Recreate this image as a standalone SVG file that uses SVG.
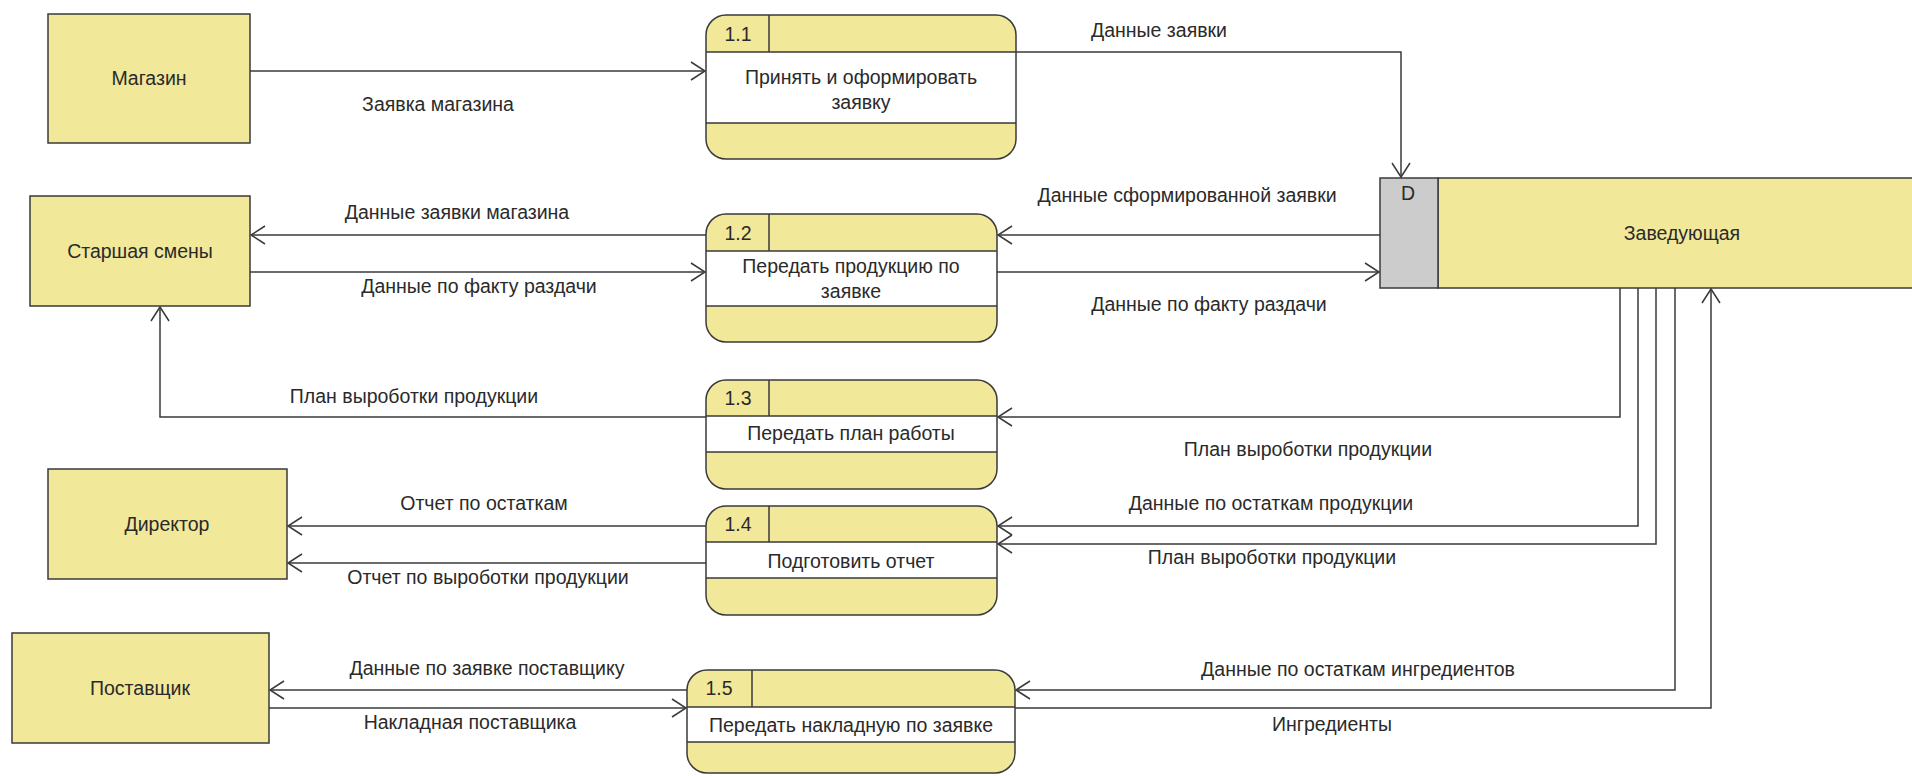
<svg xmlns="http://www.w3.org/2000/svg" width="1912" height="776" viewBox="0 0 1912 776">
<defs>
<style>
.ent{fill:#F2E89A;stroke:#3a3a3a;stroke-width:1.5}
.pf{fill:#F2E89A;stroke:none}
.po{fill:none;stroke:#3a3a3a;stroke-width:1.5}
.pb{fill:#FFFFFF;stroke:none}
.pl{stroke:#3a3a3a;stroke-width:1.5;fill:none}
.t{font-family:"Liberation Sans",Arial,sans-serif;font-size:19.5px;fill:#2a2a2a;text-anchor:middle;dominant-baseline:central}
.c{fill:none;stroke:#3a3a3a;stroke-width:1.5;marker-end:url(#arr)}
</style>
<marker id="arr" markerUnits="userSpaceOnUse" markerWidth="20" markerHeight="22" refX="15" refY="10" orient="auto">
<path d="M1,1 L15,10 L1,19" fill="none" stroke="#3a3a3a" stroke-width="1.5"/>
</marker>
</defs>
<rect width="1912" height="776" fill="#FFFFFF"/>

<g id="connectors">
<path class="c" d="M250,71 H705"/>
<path class="c" d="M1016,52 H1401 V177"/>
<path class="c" d="M1380,235 H998"/>
<path class="c" d="M997,272 H1379"/>
<path class="c" d="M706,235 H251"/>
<path class="c" d="M250,272 H705"/>
<path class="c" d="M706,417 H160 V307"/>
<path class="c" d="M1620,288 V417 H998"/>
<path class="c" d="M1638,288 V526 H998"/>
<path class="c" d="M1656,288 V544 H998"/>
<path class="c" d="M706,526 H288"/>
<path class="c" d="M706,563 H288"/>
<path class="c" d="M1675,288 V690 H1016"/>
<path class="c" d="M1015,708 H1711 V289"/>
<path class="c" d="M687,690 H270"/>
<path class="c" d="M269,708 H686"/>
</g>

<g id="labels">
<text class="t" x="438" y="104">Заявка магазина</text>
<text class="t" x="1159" y="30">Данные заявки</text>
<text class="t" x="1187" y="195">Данные сформированной заявки</text>
<text class="t" x="1209" y="304">Данные по факту раздачи</text>
<text class="t" x="457" y="212">Данные заявки магазина</text>
<text class="t" x="479" y="286">Данные по факту раздачи</text>
<text class="t" x="414" y="396">План выроботки продукции</text>
<text class="t" x="1308" y="449">План выроботки продукции</text>
<text class="t" x="1271" y="503">Данные по остаткам продукции</text>
<text class="t" x="1272" y="557">План выроботки продукции</text>
<text class="t" x="484" y="503">Отчет по остаткам</text>
<text class="t" x="488" y="577">Отчет по выроботки продукции</text>
<text class="t" x="1358" y="669">Данные по остаткам ингредиентов</text>
<text class="t" x="1332" y="724">Ингредиенты</text>
<text class="t" x="487" y="668">Данные по заявке поставщику</text>
<text class="t" x="470" y="722">Накладная поставщика</text>
</g>

<g id="magazin">
<rect class="ent" x="48" y="14" width="202" height="129"/>
<text class="t" x="149" y="78">Магазин</text>
</g>
<g id="starshaya">
<rect class="ent" x="30" y="196" width="220" height="110"/>
<text class="t" x="140" y="251">Старшая смены</text>
</g>
<g id="direktor">
<rect class="ent" x="48" y="469" width="239" height="110"/>
<text class="t" x="167" y="524">Директор</text>
</g>
<g id="postavshik">
<rect class="ent" x="12" y="633" width="257" height="110"/>
<text class="t" x="140" y="688">Поставщик</text>
</g>

<g id="zaveduyushaya">
<rect x="1438" y="178" width="490" height="110" fill="#F2E89A" stroke="#3a3a3a" stroke-width="1.5"/>
<rect x="1380" y="178" width="58" height="110" fill="#CCCCCC" stroke="#3a3a3a" stroke-width="1.5"/>
<text class="t" x="1408" y="193">D</text>
<text class="t" x="1682" y="233">Заведующая</text>
</g>

<g id="p11">
<rect class="pf" x="706" y="15" width="310" height="144" rx="20"/>
<rect class="pb" x="706" y="52" width="310" height="71"/>
<path class="pl" d="M706,52 H1016 M706,123 H1016 M769,15 V52"/>
<rect class="po" x="706" y="15" width="310" height="144" rx="20"/>
<text class="t" x="738" y="34">1.1</text>
<text class="t" x="861" y="77">Принять и оформировать</text>
<text class="t" x="861" y="102">заявку</text>
</g>

<g id="p12">
<rect class="pf" x="706" y="214" width="291" height="128" rx="20"/>
<rect class="pb" x="706" y="251" width="291" height="55"/>
<path class="pl" d="M706,251 H997 M706,306 H997 M769,214 V251"/>
<rect class="po" x="706" y="214" width="291" height="128" rx="20"/>
<text class="t" x="738" y="233">1.2</text>
<text class="t" x="851" y="266">Передать продукцию по</text>
<text class="t" x="851" y="291">заявке</text>
</g>

<g id="p13">
<rect class="pf" x="706" y="380" width="291" height="109" rx="20"/>
<rect class="pb" x="706" y="416" width="291" height="36"/>
<path class="pl" d="M706,416 H997 M706,452 H997 M769,380 V416"/>
<rect class="po" x="706" y="380" width="291" height="109" rx="20"/>
<text class="t" x="738" y="398">1.3</text>
<text class="t" x="851" y="433">Передать план работы</text>
</g>

<g id="p14">
<rect class="pf" x="706" y="506" width="291" height="109" rx="20"/>
<rect class="pb" x="706" y="542" width="291" height="36"/>
<path class="pl" d="M706,542 H997 M706,578 H997 M769,506 V542"/>
<rect class="po" x="706" y="506" width="291" height="109" rx="20"/>
<text class="t" x="738" y="524">1.4</text>
<text class="t" x="851" y="561">Подготовить отчет</text>
</g>

<g id="p15">
<rect class="pf" x="687" y="670" width="328" height="103" rx="20"/>
<rect class="pb" x="687" y="707" width="328" height="35"/>
<path class="pl" d="M687,707 H1015 M687,742 H1015 M752,670 V707"/>
<rect class="po" x="687" y="670" width="328" height="103" rx="20"/>
<text class="t" x="719" y="688">1.5</text>
<text class="t" x="851" y="725">Передать накладную по заявке</text>
</g>
</svg>
